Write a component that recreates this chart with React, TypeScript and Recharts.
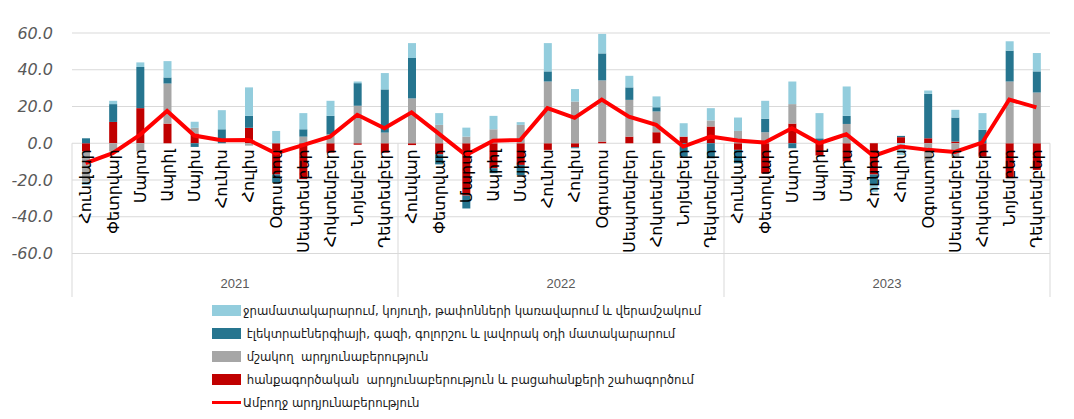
import React from 'react';
import { ComposedChart, Bar, Line, XAxis, YAxis, CartesianGrid } from 'recharts';

const YEARS = ['2021', '2022', '2023'];
const MONTHS = ['Հունվար', 'Փետրվար', 'Մարտ', 'Ապրիլ', 'Մայիս', 'Հունիս', 'Հուլիս', 'Օգոստոս', 'Սեպտեմբեր', 'Հոկտեմբեր', 'Նոյեմբեր', 'Դեկտեմբեր'];

// hanqagortsakan (mining)
const mining = [-4.5, 11.6, 19.1, 10.7, 5.3, 0, 8.4, -17.0, -19.5, -5.1, -0.8, -5.1,
  -1.0, -6.0, -28.5, -13.6, -11.8, -3.6, -2.2, 0.9, 3.6, 6.0, 3.6, 9.1,
  -3.6, -16.4, 10.7, -6.7, -10.0, -17.0, 3.3, 2.7, 0.9, -7.3, -19.0, -14.5];
// mshakogh (manufacturing)
const manufacturing = [-16.4, -4.5, -4.5, 21.8, 3.1, 0, -1.3, 0, 3.6, 4.9, 20.4, 5.8,
  24.4, 10.0, 3.6, 7.6, 10.0, 33.6, 22.7, 33.3, 20.0, 11.3, 0, 3.3,
  6.7, 6.0, 10.6, 0, 10.5, 0, 0, -10.0, -7.3, 0, 33.6, 27.6];
// electricity, gas
const electricity = [2.7, 9.7, 22.4, 3.3, -2.0, 7.6, 6.5, -4.5, 4.0, 10.0, 12.3, 23.5,
  22.0, -5.5, -7.0, -2.7, -5.5, 5.5, -0.5, 14.7, 6.8, 2.3, -7.3, -8.2,
  -7.3, 7.3, -2.7, 2.7, 4.4, -5.5, 0.7, 24.2, 13.1, 7.3, 16.8, 11.5];
// water supply
const water = [-1.8, 1.8, 2.5, 8.9, 3.3, 10.4, 15.5, 6.7, 8.8, 8.2, 0.9, 8.9,
  8.1, 6.4, 4.9, 7.3, 1.5, 15.4, 6.8, 10.6, 6.3, 5.9, 7.3, 6.7,
  7.3, 9.8, 12.3, 13.7, 16.0, -4.0, -6.4, 1.8, 4.2, 9.1, 5.1, 10.0];
// total industry
const total = [-10.8, -5.4, 4.6, 17.6, 4.2, 1.6, 1.8, -5.5, -1.0, 3.6, 15.5, 8.2,
  16.8, 5.2, -6.4, 1.4, 1.8, 19.1, 13.8, 23.8, 14.5, 10.0, -1.8, 3.6,
  1.5, 0.4, 8.2, 0.0, 4.9, -6.9, -1.8, -3.6, -4.7, 0.3, 23.8, 19.5];

const Y_TICKS = [-60, -40, -20, 0, 20, 40, 60];

const NAMES = {
  water: 'ջրամատակարարում, կոյուղի, թափոնների կառավարում և վերամշակում',
  electricity: ' էլեկտրաէներգիայի, գազի, գոլորշու և լավորակ օդի մատակարարում',
  manufacturing: ' մշակող  արդյունաբերություն',
  mining: ' հանքագործական  արդյունաբերություն և բացահանքերի շահագործում',
  total: 'Ամբողջ արդյունաբերություն',
};

const COLORS = {
  water: '#93cddd',
  electricity: '#26758f',
  manufacturing: '#a6a6a6',
  mining: '#c00000',
  total: '#ff0000',
};

const data = YEARS.flatMap((y, yi) =>
  MONTHS.map((m, mi) => {
    const i = yi * 12 + mi;
    return {
      key: `${y}-${mi}`,
      month: m,
      year: y,
      mining: mining[i],
      manufacturing: manufacturing[i],
      electricity: electricity[i],
      water: water[i],
      total: total[i],
    };
  })
);

const CHART_W = 1074;
const CHART_H = 419;
const PLOT_TOP = 33;
const PLOT_BOTTOM = 253.5;
const Y_MIN = -60;
const Y_MAX = 60;
const ZERO_Y = PLOT_TOP + ((Y_MAX - 0) / (Y_MAX - Y_MIN)) * (PLOT_BOTTOM - PLOT_TOP);
const SEP_BOTTOM = 297;
const LABEL_FONT = "'DejaVu Sans', sans-serif";
const LEGEND_FONT = "'DejaVu Sans Condensed', 'DejaVu Sans', sans-serif";

const CategoryTick = (props: any) => {
  const { x, payload, index } = props;
  const half = payload && payload.offset ? payload.offset : 13.6;
  const d = data[index];
  const monthIdx = index % 12;
  const ly = ZERO_Y + 6;
  return (
    <g>
      <text
        x={x}
        y={ly}
        transform={`rotate(-90, ${x}, ${ly})`}
        textAnchor="end"
        dy="0.36em"
        fontSize={16}
        fontFamily={LABEL_FONT}
        fill="#000000"
      >
        {d ? d.month : payload.value}
      </text>
      {monthIdx === 0 && (
        <line x1={x - half} x2={x - half} y1={ZERO_Y} y2={SEP_BOTTOM} stroke="#d9d9d9" strokeWidth={1} />
      )}
      {index === data.length - 1 && (
        <line x1={x + half} x2={x + half} y1={ZERO_Y} y2={SEP_BOTTOM} stroke="#d9d9d9" strokeWidth={1} />
      )}
      {monthIdx === 5 && (
        <text
          x={x + half}
          y={283}
          textAnchor="middle"
          dy="0.36em"
          fontSize={13}
          fontFamily="'Liberation Sans', sans-serif"
          fill="#595959"
        >
          {d.year}
        </text>
      )}
    </g>
  );
};

const legendOrder: Array<keyof typeof NAMES> = ['water', 'electricity', 'manufacturing', 'mining', 'total'];

export default function App() {
  return (
    <div style={{ position: 'absolute', left: 0, top: 0, width: CHART_W, height: CHART_H, background: '#fff' }}>
      <ComposedChart
        width={CHART_W}
        height={CHART_H}
        data={data}
        margin={{ top: PLOT_TOP, right: 24, bottom: CHART_H - PLOT_BOTTOM - 30, left: 0 }}
        stackOffset="sign"
        barSize={8}
      >
        <CartesianGrid vertical={false} stroke="#d9d9d9" strokeWidth={1} />
        <YAxis
          domain={[Y_MIN, Y_MAX]}
          ticks={Y_TICKS}
          width={72}
          axisLine={false}
          tickLine={false}
          tickSize={0}
          tickMargin={19}
          tickFormatter={(v: number) => v.toFixed(1)}
          tick={{ fill: '#595959', fontSize: 16, fontStyle: 'italic', fontFamily: "'DejaVu Sans', sans-serif" }}
        />
        <Bar dataKey="mining" stackId="s" fill={COLORS.mining} isAnimationActive={false} />
        <Bar dataKey="manufacturing" stackId="s" fill={COLORS.manufacturing} isAnimationActive={false} />
        <Bar dataKey="electricity" stackId="s" fill={COLORS.electricity} isAnimationActive={false} />
        <Bar dataKey="water" stackId="s" fill={COLORS.water} isAnimationActive={false} />
        <XAxis
          dataKey="key"
          height={30}
          axisLine={false}
          tickLine={false}
          interval={0}
          tick={<CategoryTick />}
        />
        <Line
          type="linear"
          dataKey="total"
          stroke={COLORS.total}
          strokeWidth={4}
          dot={false}
          activeDot={false}
          isAnimationActive={false}
        />
      </ComposedChart>
      <div style={{ position: 'absolute', left: 212, top: 299, fontFamily: LEGEND_FONT, fontSize: 13, color: '#1a1a1a' }}>
        {legendOrder.map((k) => (
          <div key={k} style={{ display: 'flex', alignItems: 'center', height: 23, whiteSpace: 'pre' }}>
            {k === 'total' ? (
              <span style={{ display: 'inline-block', width: 29, height: 3, background: COLORS.total, marginRight: 2 }} />
            ) : (
              <span style={{ display: 'inline-block', width: 29, height: 11, background: COLORS[k], marginRight: 2 }} />
            )}
            <span>{NAMES[k]}</span>
          </div>
        ))}
      </div>
    </div>
  );
}
